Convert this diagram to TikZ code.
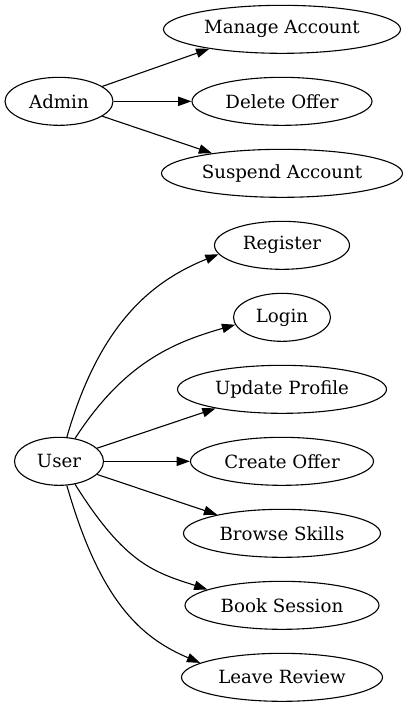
\documentclass[tikz,border=0pt]{standalone}
\usepackage{fontspec}
\setmainfont{DejaVu Serif}
\usetikzlibrary{shapes.geometric,arrows.meta}
\begin{document}
\begin{tikzpicture}[x=1pt,y=1pt,
  uc/.style={draw, ellipse, line width=1.1pt, inner sep=0pt, minimum height=48pt,
    font=\fontsize{18.2}{22}\selectfont},
  edge/.style={line width=1.1pt, -{Triangle[length=13.3pt,width=9.3pt]}}]
\useasboundingbox (0,0) rectangle (409,707);
\node[uc, minimum width=108pt] (adm) at (59,605.67) {Admin};
\node[uc, minimum width=237pt] (man) at (282,677.67) {Manage Account};
\node[uc, minimum width=180pt] (del) at (282,605.67) {Delete Offer};
\node[uc, minimum width=241pt] (sus) at (282,533.67) {Suspend Account};
\node[uc, minimum width=135pt] (reg) at (282,461.67) {Register};
\node[uc, minimum width=97pt] (log) at (282,389.67) {Login};
\node[uc, minimum width=209pt] (upd) at (282,317.67) {Update Profile};
\node[uc, minimum width=89pt] (usr) at (59,245.67) {User};
\node[uc, minimum width=183pt] (cre) at (282,245.67) {Create Offer};
\node[uc, minimum width=197pt] (bro) at (282,173.67) {Browse Skills};
\node[uc, minimum width=194pt] (bok) at (282,101.67) {Book Session};
\node[uc, minimum width=201pt] (lea) at (282,29.67) {Leave Review};
\draw[edge] (adm.19.6) -- (man.195.2);
\draw[edge] (adm.east) -- (del.west);
\draw[edge] (adm.-19.6) -- (sus.164.4);
\draw[edge] (usr.72) to[out=74, in=202, out distance=120pt, in distance=70pt] (reg.188);
\draw[edge] (usr.55) to[out=57, in=196, out distance=90pt, in distance=65pt] (log.189);
\draw[edge] (usr.19) -- (upd.196);
\draw[edge] (usr.east) -- (cre.west);
\draw[edge] (usr.-19) -- (bro.164);
\draw[edge] (usr.-55) to[out=-58, in=162, out distance=95pt, in distance=55pt] (bok.168.5);
\draw[edge] (usr.-72) to[out=-74, in=157, out distance=120pt, in distance=65pt] (lea.170);
\end{tikzpicture}
\end{document}
